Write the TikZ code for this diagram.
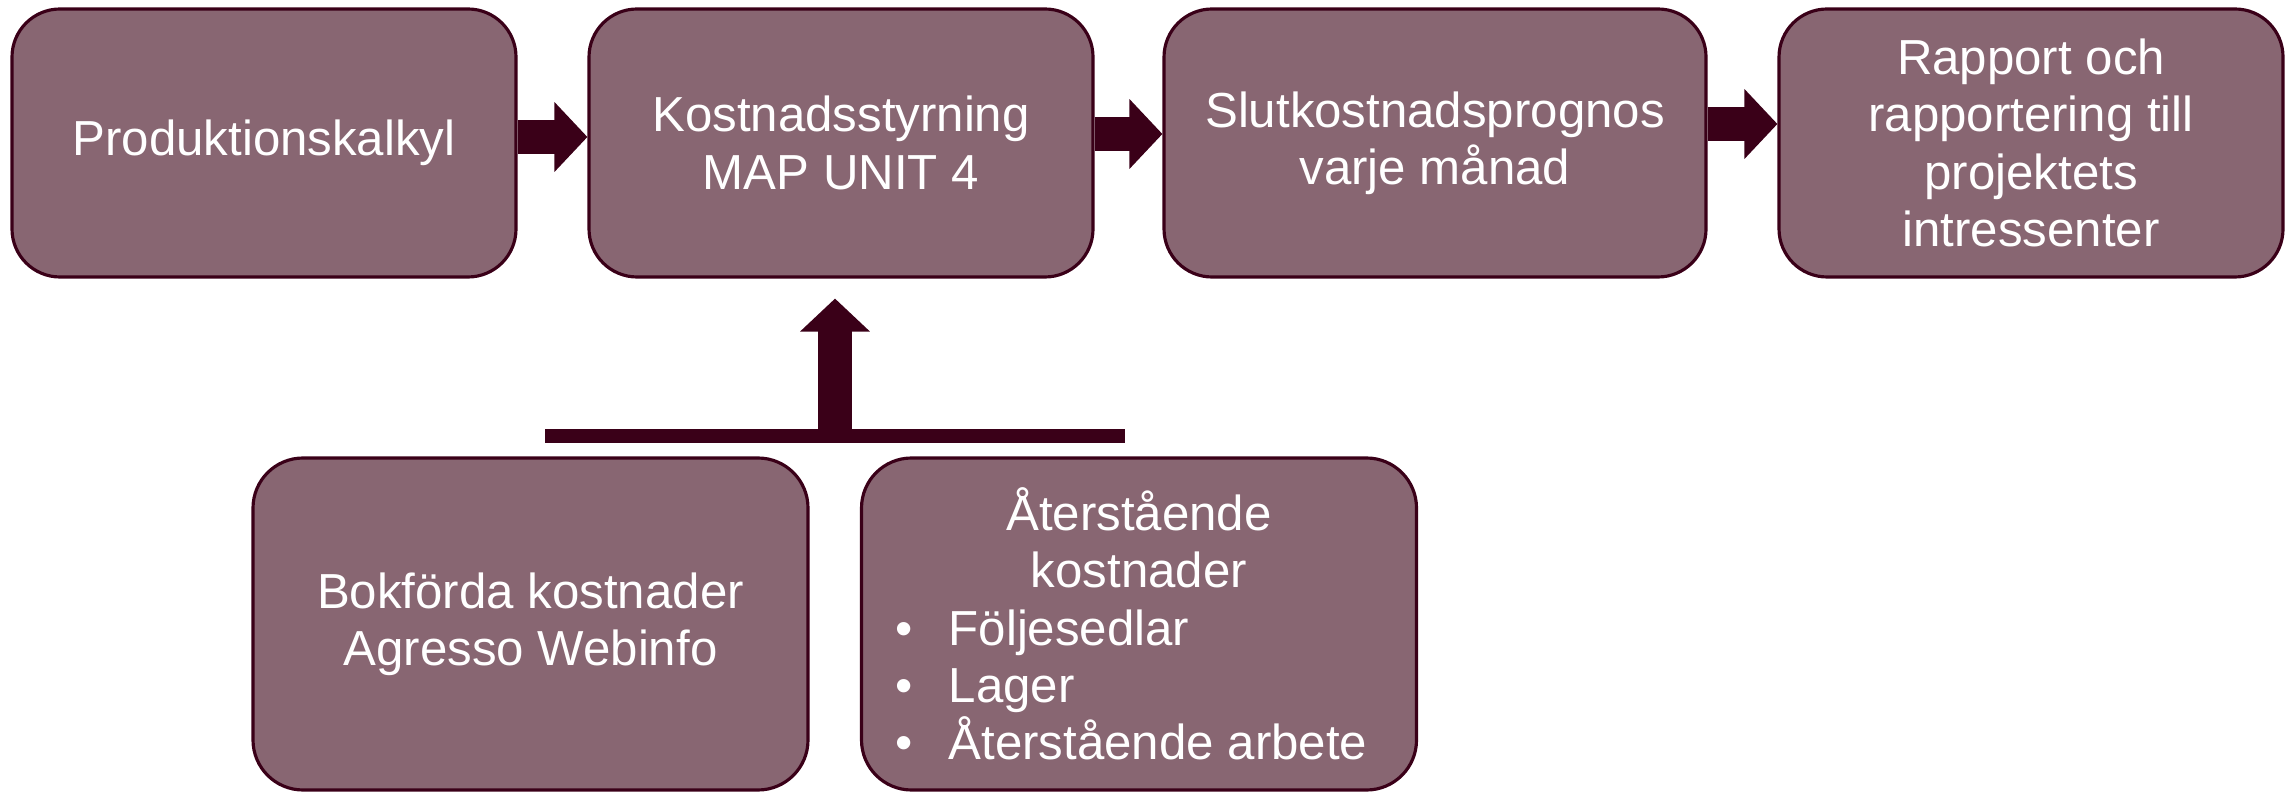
\documentclass[tikz,border=0pt]{standalone}
\usepackage{fontspec}
\setmainfont{Liberation Sans}
\usepackage{tikz}
\usetikzlibrary{arrows.meta}
\definecolor{boxfill}{HTML}{886672}
\definecolor{darkplum}{HTML}{3A0018}
\tikzset{>=latex}
\tikzset{
  stepbox/.style={draw=darkplum,line width=0.9pt,fill=boxfill,rounded corners=0.48cm,
    text=white,align=center,inner sep=0pt,minimum height=2.68cm,
    font=\fontsize{14pt}{16.3pt}\selectfont},
  fatarrow/.style={darkplum,line width=0.34cm,-{Triangle[width=0.68cm,length=0.33cm]}},
}
\newcommand{\punkt}[1]{\makebox[4.87cm][l]{\textbullet\hspace{0.36cm}#1}}

\begin{document}
\begin{tikzpicture}
       \useasboundingbox (0,0) rectangle (22.9,7.91);
       \node[stepbox,minimum width=5.04cm] (prod) at (2.64,6.48) {Produktionskalkyl};
       \node[stepbox,minimum width=5.04cm] (kost) at (8.41,6.48) {Kostnadsstyrning\\MAP UNIT 4};
       \node[stepbox,minimum width=5.42cm] (slut) at (14.35,6.48) {Slutkostnadsprognos\\varje månad};
       \node[stepbox,minimum width=5.04cm] (rapp) at (20.31,6.48) {Rapport och\\rapportering till\\projektets\\intressenter};
       \node[stepbox,rounded corners=0.5cm,minimum width=5.55cm,minimum height=3.32cm] (bokf) at (5.305,1.67) {Bokförda kostnader\\Agresso Webinfo};
       \node[stepbox,rounded corners=0.5cm,minimum width=5.55cm,minimum height=3.32cm] (ater) at (11.39,1.67)
         {Återstående\\kostnader\\\punkt{Följesedlar}\\\punkt{Lager}\\\punkt{Återstående arbete}};
       \draw[fatarrow] ([yshift=0.06cm]prod.east) -- ([yshift=0.06cm]kost.west);
       \draw[fatarrow] ([yshift=0.09cm]kost.east) -- ([yshift=0.09cm]slut.west);
       \draw[fatarrow] ([yshift=0.19cm]slut.east) -- ([yshift=0.19cm]rapp.west);
       \coordinate (barL) at (5.45,3.55);
       \coordinate (barR) at (11.25,3.55);
       \coordinate (barM) at (8.35,3.55);
       \draw[darkplum,line width=0.14cm] (barL) -- (barR);
       \draw[fatarrow] (barM) -- ([yshift=-0.2cm]kost.south -| barM);
      \end{tikzpicture}
\end{document}
